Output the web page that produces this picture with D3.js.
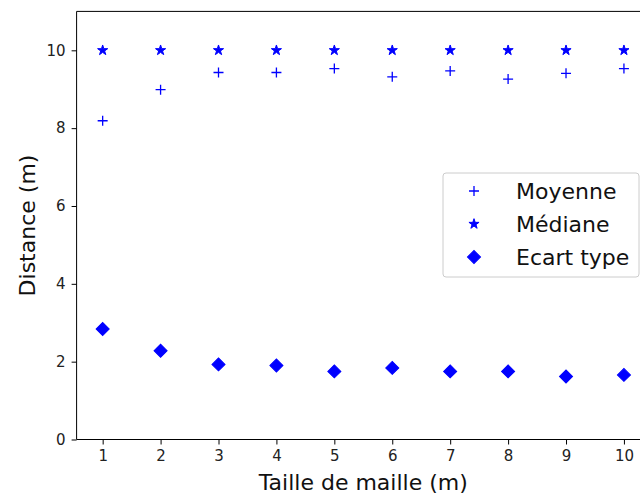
<!DOCTYPE html>
<html><head><meta charset="utf-8">
<script src="https://cdn.jsdelivr.net/npm/d3@7"></script>
<style>body{margin:0;background:#fff}svg{display:block;font-family:"DejaVu Sans",sans-serif}</style>
</head><body>
<svg id="c" width="640" height="495"></svg>
<script>
const tailles = [1,2,3,4,5,6,7,8,9,10];
const moyenne = [8.19,8.99,9.43,9.43,9.53,9.32,9.47,9.26,9.41,9.53];
const mediane = [10,10,10,10,10,10,10,10,10,10];
const ecartType = [2.84,2.28,1.93,1.90,1.75,1.84,1.75,1.75,1.62,1.66];
const xTicks = [1,2,3,4,5,6,7,8,9,10];
const yTicks = [0,2,4,6,8,10];
const seriesNames = ["Moyenne","Médiane","Ecart type"];

const svg = d3.select("#c");
const x = d3.scaleLinear().domain([0.55,10.45]).range([76.6,650]);
const y = d3.scaleLinear().domain([0,11]).range([439.5,11.4]);
const blue = "#0000ff";

const plus = {draw(ctx,size){const r=Math.sqrt(size)/2;ctx.moveTo(-r,0);ctx.lineTo(r,0);ctx.moveTo(0,-r);ctx.lineTo(0,r);}};
const symPlus = d3.symbol().type(plus).size(100);
const symStar = d3.symbol().type(d3.symbolStar).size(32);
const symDiam = d3.symbol().type(d3.symbolSquare).size(85);

// axes
const xAxis = d3.axisBottom(x).tickValues(xTicks).tickSize(5).tickPadding(6).tickFormat(d3.format("d"));
const yAxis = d3.axisLeft(y).tickValues(yTicks).tickSize(5).tickPadding(6).tickFormat(d3.format("d"));
const gx = svg.append("g").attr("transform","translate(0,439.5)").call(xAxis);
const gy = svg.append("g").attr("transform","translate(76.6,0)").call(yAxis);
[gx,gy].forEach(g=>{g.select(".domain").remove();g.selectAll("line").attr("stroke","#000").attr("stroke-width",1);
  g.selectAll("text").attr("font-size",15).attr("fill","#222").attr("font-family","DejaVu Sans");});
// spines
svg.append("line").attr("x1",76.6).attr("x2",76.6).attr("y1",11.4).attr("y2",439.5).attr("stroke","#000");
svg.append("line").attr("x1",76.6).attr("x2",650).attr("y1",439.5).attr("y2",439.5).attr("stroke","#000");
svg.append("line").attr("x1",76.6).attr("x2",650).attr("y1",11.4).attr("y2",11.4).attr("stroke","#000");

// data
svg.append("g").selectAll("path").data(tailles).join("path")
  .attr("d",symPlus).attr("transform",(d,i)=>`translate(${x(d)},${y(moyenne[i])})`)
  .attr("fill","none").attr("stroke",blue).attr("stroke-width",1.3);
svg.append("g").selectAll("path").data(tailles).join("path")
  .attr("d",symStar).attr("transform",(d,i)=>`translate(${x(d)},${y(mediane[i])})`)
  .attr("fill",blue).attr("stroke",blue).attr("stroke-width",1);
svg.append("g").selectAll("path").data(tailles).join("path")
  .attr("d",symDiam).attr("transform",(d,i)=>`translate(${x(d)},${y(ecartType[i])}) rotate(45)`)
  .attr("fill",blue).attr("stroke",blue).attr("stroke-width",1);

// labels
svg.append("text").attr("x",363.3).attr("y",490).attr("text-anchor","middle").attr("font-size",22).attr("fill","#111").text("Taille de maille (m)");
svg.append("text").attr("transform","translate(35,225.5) rotate(-90)").attr("text-anchor","middle").attr("font-size",22).attr("fill","#111").text("Distance (m)");

// legend
const lg = svg.append("g");
lg.append("rect").attr("x",443).attr("y",173).attr("width",196).attr("height",104).attr("rx",3)
  .attr("fill","#fff").attr("fill-opacity",0.8).attr("stroke","#ccc");
const syms = [symPlus, symStar, symDiam];
const ly = [191,224,257];
seriesNames.forEach((n,i)=>{
  lg.append("path").attr("d",syms[i]).attr("fill",i===0?"none":blue).attr("stroke",blue)
    .attr("stroke-width",i===0?1.3:1)
    .attr("transform",`translate(474,${ly[i]})`+(i===2?" rotate(45)":""));
  lg.append("text").attr("x",516).attr("y",ly[i]).attr("dy","0.36em").attr("font-size",22).attr("fill","#111").text(n);
});
</script>
</body></html>
